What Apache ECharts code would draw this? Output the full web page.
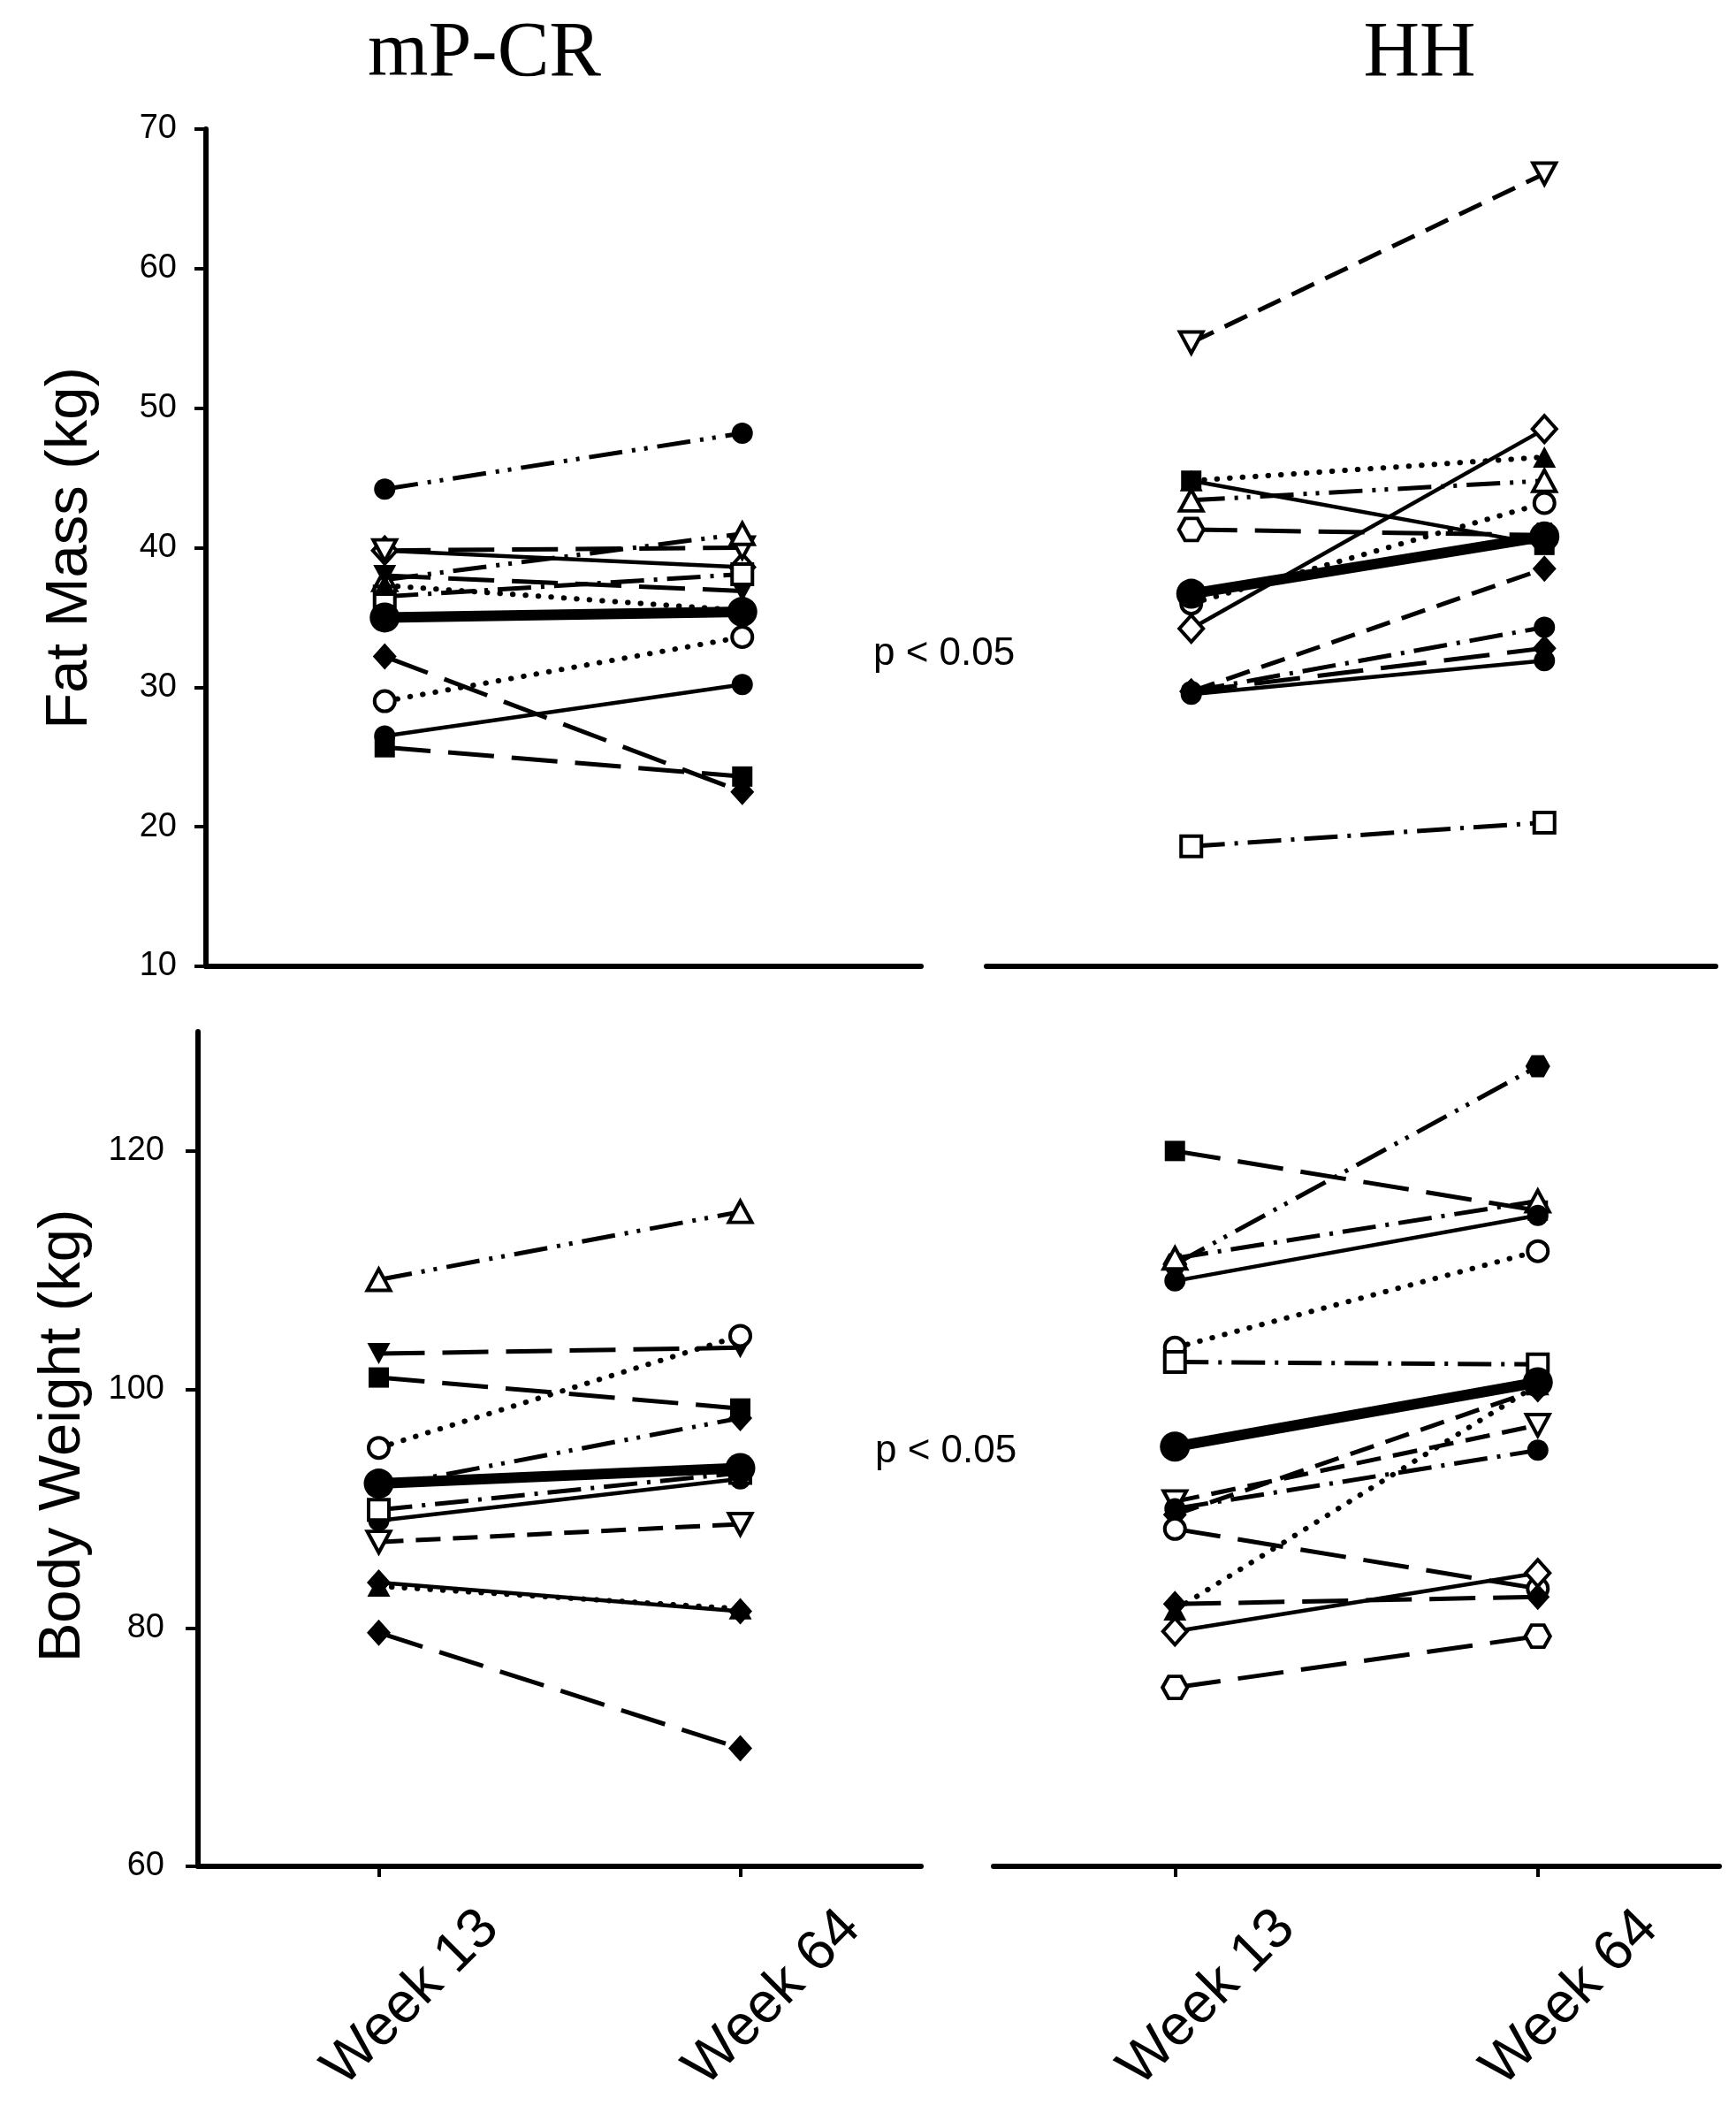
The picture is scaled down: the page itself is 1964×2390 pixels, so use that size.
<!DOCTYPE html>
<html><head><meta charset="utf-8">
<script src="https://cdn.jsdelivr.net/npm/echarts@6/dist/echarts.min.js"></script>
<style>html,body{margin:0;padding:0;background:#fff}#c{width:1964px;height:2390px}</style>
</head><body><div id="c"></div>
<script>
const categories = ['Week 13', 'Week 64'];
const groupTitles = ['mP-CR', 'HH'];
const yTitles = ['Fat Mass (kg)', 'Body Weight (kg)'];
const pText = 'p < 0.05';
const fatTicks = [10, 20, 30, 40, 50, 60, 70];
const bwTicks = [60, 80, 100, 120];

// Fat mass, mP-CR
const fatMcrW13 = [44.2, 39.8, 39.8, 37.7, 38.0, 36.5, 37.3, 35.0, 29.0, 26.5, 32.2, 25.7];
const fatMcrW64 = [48.2, 38.6, 40.0, 41.0, 36.9, 38.1, 35.5, 35.4, 33.6, 30.2, 22.5, 23.6];
const fatMcrMarker = ['fc','od','otd','otu','ftd','os','ftu','mean','oc','fc','fd','fs'];
const fatMcrDash = ['dashdotdot','solid','longdash','dashdotdot','longdash','dashdot','dotted','mean','dotted','solid','longdash','longdash'];

// Fat mass, HH
const fatHhW13 = [54.7, 34.2, 44.8, 43.4, 36.0, 41.3, 44.8, 36.7, 29.7, 29.7, 29.7, 29.5, 18.6];
const fatHhW64 = [66.8, 48.5, 46.5, 44.8, 43.2, 40.9, 40.2, 40.8, 38.5, 34.3, 32.8, 31.9, 20.3];
const fatHhMarker = ['otd','od','ftu','otu','oc','oh','fs','mean','fd','fc','fd','fc','os'];
const fatHhDash = ['dashed','solid','dotted','dashdotdot','dotted','longdash','solid','mean','dashed','dashdot','longdash','solid','dashdot'];

// Body weight, mP-CR
const bwMcrW13 = [109.2, 103.0, 95.1, 101.0, 91.8, 92.1, 89.0, 89.9, 87.2, 83.8, 83.5, 79.6];
const bwMcrW64 = [114.9, 103.5, 104.5, 98.4, 97.6, 93.4, 92.5, 93.0, 88.7, 81.4, 81.6, 69.9];
const bwMcrMarker = ['otu','ftd','oc','fs','fd','mean','fc','os','otd','fd','ftu','fd'];
const bwMcrDash = ['dashdotdot','longdash','dotted','longdash','dashdotdot','mean','solid','dashdot','dashed','solid','dotted','longdash'];

// Body weight, HH
const bwHhW13 = [110.5, 120.0, 111.0, 109.1, 103.5, 102.3, 95.2, 90.6, 90.0, 89.5, 88.3, 81.5, 82.0, 79.7, 75.0];
const bwHhW64 = [127.1, 115.0, 115.8, 114.6, 111.6, 102.1, 100.6, 97.0, 94.9, 100.0, 83.3, 100.4, 82.6, 84.6, 79.3];
const bwHhMarker = ['fh','fs','otu','fc','oc','os','mean','otd','fc','fd','oc','ftu','fd','od','oh'];
const bwHhDash = ['dashdotdot','longdash','dashdot','solid','dotted','dashdot','mean','dashed','dashdot','dashed','longdash','dotted','longdash','solid','longdash'];

const HEX = 'path://M-1,0 L-0.5,-0.866 L0.5,-0.866 L1,0 L0.5,0.866 L-0.5,0.866 Z';
const markerDefs = {
  fc: {symbol:'circle', size:24, fill:true},
  oc: {symbol:'circle', size:23, fill:false},
  fs: {symbol:'rect', size:23, fill:true},
  os: {symbol:'rect', size:23, fill:false},
  fd: {symbol:'diamond', size:[27,30], fill:true},
  od: {symbol:'diamond', size:[27,30], fill:false},
  ftu:{symbol:'triangle', size:[26,24], fill:true},
  otu:{symbol:'triangle', size:[26,24], fill:false},
  ftd:{symbol:'triangle', size:[26,24], fill:true, rot:180},
  otd:{symbol:'triangle', size:[26,24], fill:false, rot:180},
  fh: {symbol:HEX, size:[28,25], fill:true},
  oh: {symbol:HEX, size:[28,25], fill:false},
  mean:{symbol:'circle', size:34, fill:true}
};
const dashDefs = {
  solid: {type:'solid', width:4.5, cap:'butt'},
  dashed: {type:[28,14], width:5, cap:'butt'},
  longdash: {type:[52,20], width:5, cap:'butt'},
  dotted: {type:[0.5,14], width:6, cap:'round'},
  dashdot: {type:[38,11,4,11], width:5, cap:'butt'},
  dashdotdot: {type:[38,11,4,10,4,11], width:5, cap:'butt'},
  mean: {type:'solid', width:12, cap:'round'}
};

const series = [];
function addPanel(idx, w13, w64, markers, dashes) {
  for (let i = 0; i < w13.length; i++) {
    const m = markerDefs[markers[i]];
    const d = dashDefs[dashes[i]];
    series.push({
      type:'line', xAxisIndex:idx, yAxisIndex:idx,
      data:[[1, w13[i]], [2, w64[i]]],
      symbol:m.symbol, symbolSize:m.size, symbolRotate:m.rot || 0,
      showSymbol:true, silent:true, animation:false,
      z: dashes[i] === 'mean' ? 5 : 3,
      itemStyle:{color: m.fill ? '#000' : '#fff', borderColor:'#000', borderWidth: m.fill ? 0 : 4, opacity:1},
      lineStyle:{color:'#000', width:d.width, type:d.type, cap:d.cap, opacity:1},
      emphasis:{disabled:true}
    });
  }
}
addPanel(0, fatMcrW13, fatMcrW64, fatMcrMarker, fatMcrDash);
addPanel(1, fatHhW13, fatHhW64, fatHhMarker, fatHhDash);
addPanel(2, bwMcrW13, bwMcrW64, bwMcrMarker, bwMcrDash);
addPanel(3, bwHhW13, bwHhW64, bwHhMarker, bwHhDash);

const FONT = '"Liberation Sans", Arial, sans-serif';
function xAx(gi, min, max, withLabels) {
  return {
    type:'value', gridIndex:gi, min:min, max:max,
    axisLine:{show:true, onZero:false, lineStyle:{color:'#000', width:6, cap:'round'}},
    splitLine:{show:false},
    axisTick:{show:withLabels, customValues:[1,2], length:12, inside:false, lineStyle:{color:'#000', width:4}},
    axisLabel:{show:withLabels, customValues:[1,2],
      formatter: v => categories[Math.round(v) - 1],
      rotate:45, align:'center', verticalAlign:'middle', margin:186, padding:[0,0,0,104],
      fontSize:64, fontFamily:FONT, color:'#000'}
  };
}
function yAx(gi, min, max, ticks, show, margin, tickLen) {
  return {
    type:'value', gridIndex:gi, min:min, max:max, show:show,
    axisLine:{show:true, onZero:false, lineStyle:{color:'#000', width:6}},
    splitLine:{show:false},
    axisTick:{show:true, customValues:ticks, length:tickLen, inside:false, lineStyle:{color:'#000', width:4}},
    axisLabel:{show:true, customValues:ticks, margin:margin, fontSize:38, fontFamily:FONT, color:'#000'}
  };
}

const option = {
  animation:false,
  backgroundColor:'#fff',
  grid:[
    {left:233, top:146, width:809, height:947},
    {left:1116, top:146, width:825, height:947},
    {left:224, top:1167, width:818, height:944},
    {left:1124, top:1167, width:821, height:944}
  ],
  xAxis:[ xAx(0, 0.5, 2.5, false), xAx(1, 0.42, 2.485, false), xAx(2, 0.5, 2.5, true), xAx(3, 0.5, 2.5, true) ],
  yAxis:[ yAx(0, 10, 70, fatTicks, true, 33, 13), yAx(1, 10, 70, fatTicks, false, 33, 13),
          yAx(2, 60, 130, bwTicks, true, 38, 14), yAx(3, 60, 130, bwTicks, false, 38, 14) ],
  series: series,
  graphic:[
    {type:'text', x:548, y:62, style:{text:groupTitles[0], font:'88px "Liberation Serif", "Times New Roman", serif', align:'center', verticalAlign:'middle', fill:'#000'}},
    {type:'text', x:1606, y:62, style:{text:groupTitles[1], font:'88px "Liberation Serif", "Times New Roman", serif', align:'center', verticalAlign:'middle', fill:'#000'}},
    {type:'text', x:80, y:620, rotation:Math.PI/2, style:{text:yTitles[0], font:'67px ' + FONT, align:'center', verticalAlign:'middle', fill:'#000'}},
    {type:'text', x:72, y:1624, rotation:Math.PI/2, style:{text:yTitles[1], font:'67px ' + FONT, align:'center', verticalAlign:'middle', fill:'#000'}},
    {type:'text', x:988, y:740, style:{text:pText, font:'44px ' + FONT, align:'left', verticalAlign:'middle', fill:'#000'}},
    {type:'text', x:990, y:1642, style:{text:pText, font:'44px ' + FONT, align:'left', verticalAlign:'middle', fill:'#000'}}
  ]
};
const chart = echarts.init(document.getElementById('c'), null, {renderer:'canvas'});
chart.setOption(option);
</script>
</body></html>
